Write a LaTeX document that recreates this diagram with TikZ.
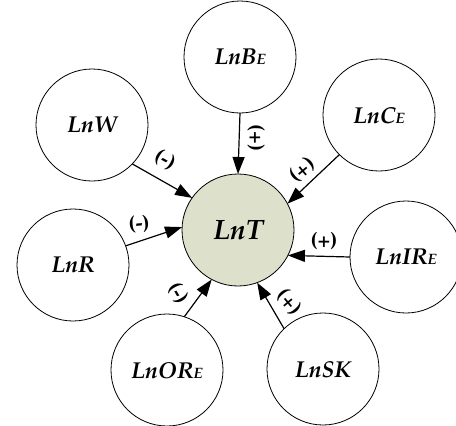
\documentclass[tikz,border=0pt]{standalone}
\usepackage[T1]{fontenc}
\usepackage{mathpazo}
\usetikzlibrary{arrows.meta}
\definecolor{centerfill}{RGB}{221,224,203}
\tikzset{
  outer/.style={circle, draw, line width=0.8pt, minimum size=112pt, inner sep=0pt, outer sep=0pt,
    font=\fontsize{23}{25}\selectfont\bfseries\itshape},
  inner/.style={outer, fill=centerfill, font=\fontsize{28}{30}\selectfont\bfseries\itshape},
  link/.style={line width=1.2pt, -{Triangle[length=17pt,width=12pt]}},
  sign/.style={font=\fontsize{21}{23}\selectfont\bfseries, inner sep=0pt}
}
\newcommand{\smE}{{\fontsize{15}{15}\selectfont E}}
\begin{document}
\begin{tikzpicture}[x=1pt,y=-1pt]
\useasboundingbox (0,0) rectangle (456,426);
\node[inner] (lnt) at (238,230) {LnT};
\node[outer] (lnb) at (240,57) {LnB\smE};
\node[outer] (lnw) at (92,125) {LnW};
\node[outer] (lnc) at (379,115) {LnC\smE};
\node[outer] (lnr) at (73,265) {LnR};
\node[outer] (lnir) at (406,257) {LnIR\smE};
\node[outer] (lnsk) at (323,369) {LnSK};
\node[outer] (lnor) at (167,370) {LnOR\smE};
\draw[link] (lnb.-90) -- (lnt.90);
\draw[link] (lnw.-44) -- (lnt.145);
\draw[link] (lnc.-135) -- (lnt.28);
\draw[link] (lnr.20) -- (lnt.177);
\draw[link] (lnir.180) -- (lnt.-27);
\draw[link] (lnsk.134) -- (lnt.-70);
\draw[link] (lnor.72) -- (lnt.-118);
\node[sign, rotate=-90] (sb) at (256,138) {(+)};
\node[sign, rotate=-29] (sw) at (165,160) {(-)};
\node[sign, rotate=40] (sc) at (302,170) {(+)};
\node[sign, rotate=5] (sr) at (139,224) {(-)};
\node[sign] (sir) at (324,241) {(+)};
\node[sign, rotate=-50] (ssk) at (289,302) {(+)};
\node[sign, rotate=-60] (sor) at (178,293) {(-)};
\end{tikzpicture}
\end{document}
